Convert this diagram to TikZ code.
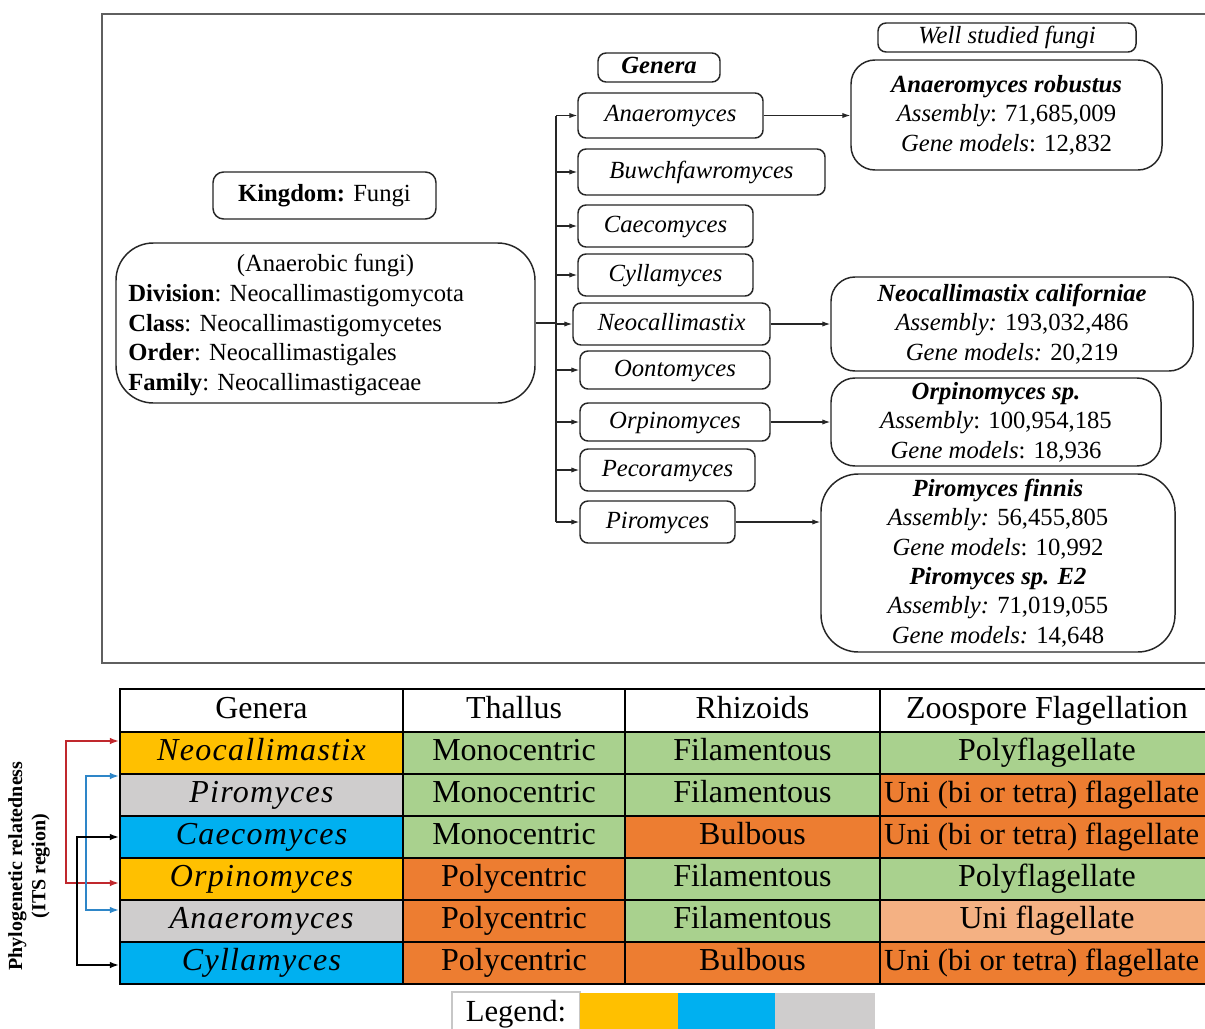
\documentclass[tikz,border=0pt]{standalone}
\usepackage{fontspec}
\setmainfont{Liberation Serif}
\newfontfamily\gfont{Liberation Serif}[LetterSpace=4]
\usetikzlibrary{arrows.meta}
\definecolor{cyel}{HTML}{FFC000}
\definecolor{cblu}{HTML}{00B0F0}
\definecolor{cgry}{HTML}{CFCDCD}
\definecolor{cgrn}{HTML}{A9D18E}
\definecolor{corg}{HTML}{ED7D31}
\definecolor{clor}{HTML}{F4B183}
\definecolor{cred}{HTML}{C0282D}
\definecolor{carb}{HTML}{2E86C8}
\definecolor{frame}{HTML}{5F5F5F}
\newcommand\topfs{\fontsize{18.5}{22.1}\selectfont}
\newcommand\tabfs{\fontsize{24}{28}\selectfont}
\newcommand\unitxt{{\fontsize{23}{28}\selectfont\kern-8pt Uni (bi or tetra) flagellate}}
\begin{document}
\begin{tikzpicture}[x=0.75pt,y=-0.75pt,
  sz/.style 2 args={minimum width=#1*0.75pt, minimum height=#2*0.75pt},
  box/.style={draw=black!85, line width=1.1pt, rounded corners=6pt, inner sep=0pt, align=center, font=\topfs},
  one/.style={text height=13pt, text depth=4pt},
  bigbox/.style={box, rounded corners=18pt},
  link/.style={draw=black!85, line width=0.9pt},
  arr/.style={link, -{Latex[length=6pt,width=4pt]}},
  cell/.style={draw=black, line width=1.3pt, inner sep=0pt, font=\tabfs, text height=16.5pt, text depth=5pt},
  phy/.style={line width=1.5pt, {Latex[length=7pt,width=5pt]}-{Latex[length=7pt,width=5pt]}},
  swatch/.style={inner sep=0pt, draw=none}
]
\useasboundingbox (0,0) rectangle (1205,1028);
\clip (0,0) rectangle (1205,1028);
\fill[white] (0,0) rectangle (1205,1028);

% ---------- top panel frame ----------
\draw[frame, line width=2pt] (102,14) rectangle (1220,663);

% labels
\node[box, one, sz={122}{29}] (genlab) at (659,67.5) {\bfseries\itshape Genera};
\node[box, one, sz={258}{29}] (welllab) at (1007,37.5) {\itshape Well studied fungi};

% kingdom and classification
\node[box, one, rounded corners=8pt, sz={223}{47}] (king) at (324.5,195.5) {\textbf{Kingdom:} Fungi};
\node[box, rounded corners=28pt, sz={419}{160}] (anf) at (325.5,323) {};
\node[font=\topfs, inner sep=0pt] (anft) at (325.5,265) {(Anaerobic fungi)};
\node[font=\topfs, inner sep=0pt, anchor=west, align=left] (anfl) at (128,340) {\textbf{Division}: Neocallimastigomycota\\
\textbf{Class}: Neocallimastigomycetes\\
\textbf{Order}: Neocallimastigales\\
\textbf{Family}: Neocallimastigaceae};

% genera
\node[box, one, sz={185}{45}] (g1) at (670.5,115.5) {\itshape Anaeromyces};
\node[box, one, sz={247}{46}] (g2) at (701.5,172) {\itshape Buwchfawromyces};
\node[box, one, sz={175}{42}] (g3) at (665.5,226) {\itshape Caecomyces};
\node[box, one, sz={175}{42}] (g4) at (665.5,275) {\itshape Cyllamyces};
\node[box, one, sz={197}{42}] (g5) at (671.5,324) {\itshape Neocallimastix};
\node[box, one, sz={190}{38}] (g6) at (675,370) {\itshape Oontomyces};
\node[box, one, sz={190}{38}] (g7) at (675,422) {\itshape Orpinomyces};
\node[box, one, sz={175}{42}] (g8) at (667.5,470) {\itshape Pecoramyces};
\node[box, one, sz={155}{42}] (g9) at (657.5,522) {\itshape Piromyces};

% well studied fungi
\node[bigbox, sz={311}{110}] (s1) at (1006.5,115) {\textbf{\textit{Anaeromyces robustus}}\\ \textit{Assembly}: 71,685,009\\ \textit{Gene models}: 12,832};
\node[bigbox, sz={362}{94}] (s2) at (1012,324) {\textbf{\textit{Neocallimastix californiae}}\\ \textit{Assembly:} 193,032,486\\ \textit{Gene models:} 20,219};
\node[bigbox, sz={330}{88}] (s3) at (996,422) {\textbf{\textit{Orpinomyces sp.}}\\ \textit{Assembly}: 100,954,185\\ \textit{Gene models}: 18,936};
\node[bigbox, rounded corners=28pt, sz={354}{178}] (s4) at (998,563) {\textbf{\textit{Piromyces finnis}}\\ \textit{Assembly:} 56,455,805\\ \textit{Gene models}: 10,992\\ \textbf{\textit{Piromyces sp. E2}}\\ \textit{Assembly:} 71,019,055\\ \textit{Gene models:} 14,648};

% connectors
\coordinate (tt) at (556,115.5);
\coordinate (tb) at (556,522);
\draw[link] (anf.east) -- (anf.east -| tt);
\draw[link] (tt) -- (tb);
\foreach \g in {g1,g2,g3,g4,g5,g6,g7,g8,g9}{
  \draw[arr] (tt |- \g.west) -- (\g.west);
}
\draw[arr] (g1.east) -- (g1.east -| s1.west);
\draw[arr] (g5.east) -- (g5.east -| s2.west);
\draw[arr] (g7.east) -- (g7.east -| s3.west);
\draw[arr] (g9.east) -- (g9.east -| s4.west);

% ---------- table ----------
\node[cell, sz={283}{43}, fill=white] (h1) at (261.5,710.5) {Genera};
\node[cell, sz={222}{43}, fill=white] (h2) at (514,710.5) {Thallus};
\node[cell, sz={255}{43}, fill=white] (h3) at (752.5,710.5) {Rhizoids};
\node[cell, sz={334}{43}, fill=white] (h4) at (1047,710.5) {Zoospore Flagellation};

\node[cell, sz={283}{42}, fill=cyel] (n1) at (261.5,753) {\gfont\itshape Neocallimastix};
\node[cell, sz={222}{42}, fill=cgrn] (t1) at (514,753) {Monocentric};
\node[cell, sz={255}{42}, fill=cgrn] (r1) at (752.5,753) {Filamentous};
\node[cell, sz={334}{42}, fill=cgrn] (z1) at (1047,753) {Polyflagellate};

\node[cell, sz={283}{42}, fill=cgry] (n2) at (261.5,795) {\gfont\itshape Piromyces};
\node[cell, sz={222}{42}, fill=cgrn] (t2) at (514,795) {Monocentric};
\node[cell, sz={255}{42}, fill=cgrn] (r2) at (752.5,795) {Filamentous};
\node[cell, sz={334}{42}, fill=corg] (z2) at (1047,795) {\unitxt};

\node[cell, sz={283}{42}, fill=cblu] (n3) at (261.5,837) {\gfont\itshape Caecomyces};
\node[cell, sz={222}{42}, fill=cgrn] (t3) at (514,837) {Monocentric};
\node[cell, sz={255}{42}, fill=corg] (r3) at (752.5,837) {Bulbous};
\node[cell, sz={334}{42}, fill=corg] (z3) at (1047,837) {\unitxt};

\node[cell, sz={283}{42}, fill=cyel] (n4) at (261.5,879) {\gfont\itshape Orpinomyces};
\node[cell, sz={222}{42}, fill=corg] (t4) at (514,879) {Polycentric};
\node[cell, sz={255}{42}, fill=cgrn] (r4) at (752.5,879) {Filamentous};
\node[cell, sz={334}{42}, fill=cgrn] (z4) at (1047,879) {Polyflagellate};

\node[cell, sz={283}{42}, fill=cgry] (n5) at (261.5,921) {\gfont\itshape Anaeromyces};
\node[cell, sz={222}{42}, fill=corg] (t5) at (514,921) {Polycentric};
\node[cell, sz={255}{42}, fill=cgrn] (r5) at (752.5,921) {Filamentous};
\node[cell, sz={334}{42}, fill=clor] (z5) at (1047,921) {Uni flagellate};

\node[cell, sz={283}{42}, fill=cblu] (n6) at (261.5,963) {\gfont\itshape Cyllamyces};
\node[cell, sz={222}{42}, fill=corg] (t6) at (514,963) {Polycentric};
\node[cell, sz={255}{42}, fill=corg] (r6) at (752.5,963) {Bulbous};
\node[cell, sz={334}{42}, fill=corg] (z6) at (1047,963) {\unitxt};

% phylogenetic relatedness arrows
\draw[phy, cred] ([yshift=9pt]n1.west) -- ++(-53,0) |- ([yshift=-3pt]n4.west);
\draw[phy, carb] ([yshift=14.25pt]n2.west) -- ++(-33,0) |- ([yshift=8.25pt]n5.west);
\draw[phy, black] (n3.west) -- ++(-42,0) |- ([yshift=-1.5pt]n6.west);

\node[rotate=90, font=\bfseries\fontsize{15}{17.5}\selectfont, align=center, inner sep=0pt] (phylab) at (29,866) {Phylogenetic relatedness\\(ITS region)};

% legend
\node[draw=black!22, line width=1pt, fill=white, sz={128}{44}, inner sep=0pt, text height=15.5pt, text depth=5pt, font=\fontsize{23}{27}\selectfont] (leg) at (516,1014) {Legend:};
\node[swatch, fill=cyel, sz={98}{42}] (ly) at (629,1014) {};
\node[swatch, fill=cblu, sz={97}{42}] (lb) at (726.5,1014) {};
\node[swatch, fill=cgry, sz={100}{42}] (lg) at (825,1014) {};
\end{tikzpicture}
\end{document}
